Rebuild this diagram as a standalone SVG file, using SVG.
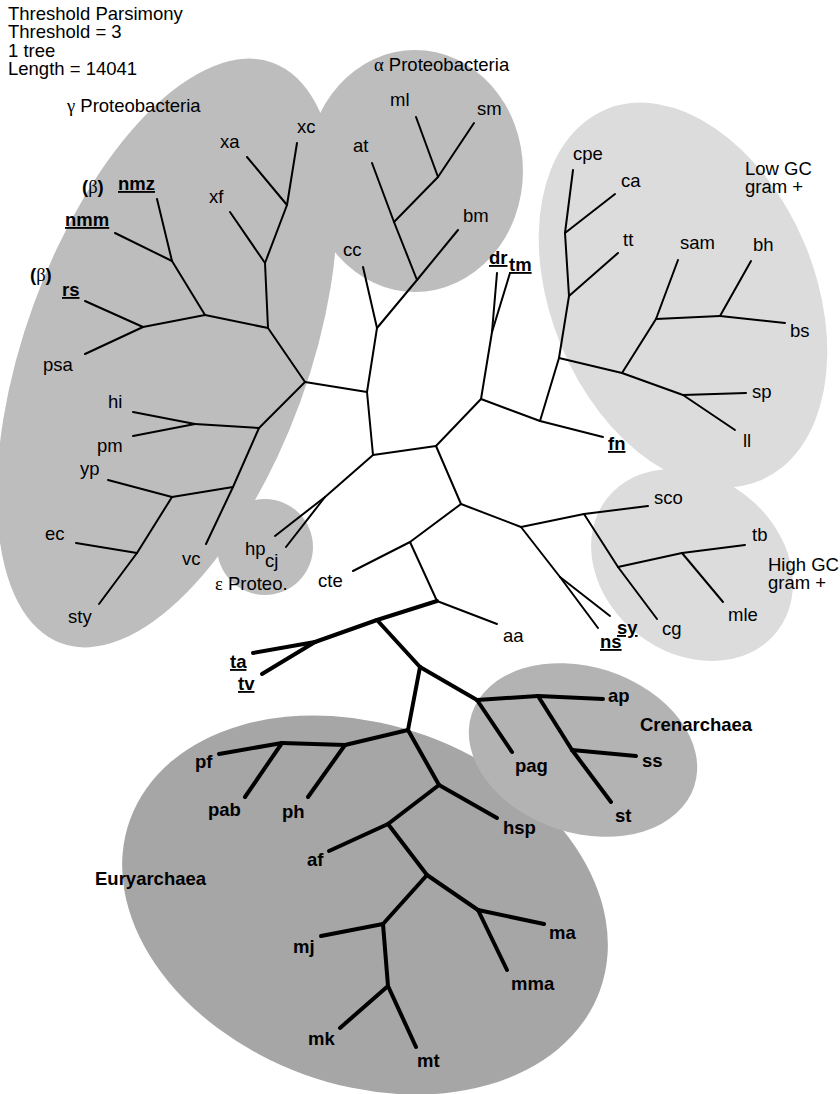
<svg xmlns="http://www.w3.org/2000/svg" width="840" height="1094" viewBox="0 0 840 1094">
<style>
text{font-family:"Liberation Sans",Arial,Helvetica,sans-serif;font-size:18.5px;fill:#000}
.b{font-weight:bold}
.u{text-decoration:underline}
.gr{font-family:"Liberation Serif","Times New Roman",serif;font-weight:normal}
.g1{fill:#bdbdbd}
.g2{fill:#dcdcdc}
.eu{fill:#a6a6a6}
.cr{fill:#b3b3b3}
.thin line{stroke:#000;stroke-width:2;stroke-linecap:round}
.thick line{stroke:#000;stroke-width:4;stroke-linecap:round}
</style>
<rect width="840" height="1094" fill="#fff"/>
<g id="clusters">
<g id="gamma-proteobacteria"><ellipse class="g1" cx="167" cy="353" rx="142" ry="309" transform="rotate(20 167 353)"/></g>
<g id="alpha-proteobacteria"><ellipse class="g1" cx="415" cy="171" rx="108" ry="121"/></g>
<g id="epsilon-proteobacteria"><circle class="g1" cx="265" cy="547" r="48"/></g>
<g id="low-gc"><ellipse class="g2" cx="683" cy="295" rx="132" ry="201" transform="rotate(-22.6 683 295)"/></g>
<g id="high-gc"><ellipse class="g2" cx="692" cy="565" rx="108" ry="88" transform="rotate(38 692 565)"/></g>
<g id="euryarchaea"><ellipse class="eu" cx="365" cy="905" rx="250" ry="180" transform="rotate(20 365 905)"/></g>
<g id="crenarchaea"><ellipse class="cr" cx="583" cy="750" rx="117" ry="83" transform="rotate(18 583 750)"/></g>
</g>
<g id="connectors">
<g class="thin">
<line x1="297" y1="143" x2="287" y2="205"/>
<line x1="247" y1="157" x2="287" y2="205"/>
<line x1="287" y1="205" x2="265" y2="263"/>
<line x1="230" y1="212" x2="265" y2="263"/>
<line x1="265" y1="263" x2="268" y2="328"/>
<line x1="268" y1="328" x2="205" y2="315"/>
<line x1="205" y1="315" x2="172" y2="261"/>
<line x1="157" y1="199" x2="172" y2="261"/>
<line x1="115" y1="233" x2="172" y2="261"/>
<line x1="205" y1="315" x2="143" y2="327"/>
<line x1="85" y1="301" x2="143" y2="327"/>
<line x1="85" y1="354" x2="143" y2="327"/>
<line x1="268" y1="328" x2="305" y2="382"/>
<line x1="305" y1="382" x2="259" y2="428"/>
<line x1="133" y1="412" x2="195" y2="424"/>
<line x1="133" y1="436" x2="195" y2="424"/>
<line x1="195" y1="424" x2="259" y2="428"/>
<line x1="259" y1="428" x2="233" y2="487"/>
<line x1="233" y1="487" x2="206" y2="544"/>
<line x1="233" y1="487" x2="172" y2="497"/>
<line x1="108" y1="480" x2="172" y2="497"/>
<line x1="172" y1="497" x2="137" y2="553"/>
<line x1="76" y1="543" x2="137" y2="553"/>
<line x1="137" y1="553" x2="99" y2="604"/>
<line x1="305" y1="382" x2="367" y2="392"/>
<line x1="367" y1="392" x2="377" y2="328"/>
<line x1="377" y1="328" x2="363" y2="267"/>
<line x1="377" y1="328" x2="417" y2="280"/>
<line x1="417" y1="280" x2="458" y2="230"/>
<line x1="417" y1="280" x2="394" y2="222"/>
<line x1="394" y1="222" x2="372" y2="163"/>
<line x1="394" y1="222" x2="438" y2="177"/>
<line x1="438" y1="177" x2="416" y2="117"/>
<line x1="438" y1="177" x2="474" y2="123"/>
<line x1="367" y1="392" x2="373" y2="455"/>
<line x1="373" y1="455" x2="325" y2="497"/>
<line x1="325" y1="497" x2="275" y2="536"/>
<line x1="325" y1="497" x2="286" y2="547"/>
<line x1="373" y1="455" x2="436" y2="446"/>
<line x1="436" y1="446" x2="481" y2="399"/>
<line x1="481" y1="399" x2="492" y2="332"/>
<line x1="492" y1="332" x2="497" y2="273"/>
<line x1="492" y1="332" x2="510" y2="273"/>
<line x1="481" y1="399" x2="540" y2="421"/>
<line x1="540" y1="421" x2="603" y2="437"/>
<line x1="540" y1="421" x2="559" y2="358"/>
<line x1="559" y1="358" x2="569" y2="296"/>
<line x1="569" y1="296" x2="618" y2="253"/>
<line x1="569" y1="296" x2="565" y2="233"/>
<line x1="565" y1="233" x2="615" y2="194"/>
<line x1="565" y1="233" x2="573" y2="170"/>
<line x1="559" y1="358" x2="622" y2="373"/>
<line x1="622" y1="373" x2="656" y2="319"/>
<line x1="656" y1="319" x2="678" y2="260"/>
<line x1="656" y1="319" x2="720" y2="316"/>
<line x1="720" y1="316" x2="751" y2="261"/>
<line x1="720" y1="316" x2="785" y2="323"/>
<line x1="622" y1="373" x2="683" y2="395"/>
<line x1="683" y1="395" x2="746" y2="393"/>
<line x1="683" y1="395" x2="735" y2="430"/>
<line x1="436" y1="446" x2="461" y2="504"/>
<line x1="461" y1="504" x2="521" y2="527"/>
<line x1="521" y1="527" x2="560" y2="577"/>
<line x1="560" y1="577" x2="598" y2="628"/>
<line x1="560" y1="577" x2="610" y2="616"/>
<line x1="521" y1="527" x2="584" y2="514"/>
<line x1="584" y1="514" x2="648" y2="506"/>
<line x1="584" y1="514" x2="618" y2="567"/>
<line x1="618" y1="567" x2="657" y2="619"/>
<line x1="618" y1="567" x2="682" y2="553"/>
<line x1="682" y1="553" x2="745" y2="545"/>
<line x1="682" y1="553" x2="723" y2="602"/>
<line x1="461" y1="504" x2="410" y2="542"/>
<line x1="410" y1="542" x2="353" y2="571"/>
<line x1="410" y1="542" x2="437" y2="601"/>
<line x1="437" y1="601" x2="497" y2="624"/>
</g>
<g class="thick">
<line x1="437" y1="601" x2="377" y2="620"/>
<line x1="377" y1="620" x2="315" y2="642"/>
<line x1="315" y1="642" x2="253" y2="653"/>
<line x1="315" y1="642" x2="262" y2="674"/>
<line x1="377" y1="620" x2="420" y2="667"/>
<line x1="420" y1="667" x2="477" y2="700"/>
<line x1="477" y1="700" x2="512" y2="752"/>
<line x1="477" y1="700" x2="538" y2="696"/>
<line x1="538" y1="696" x2="603" y2="699"/>
<line x1="538" y1="696" x2="572" y2="750"/>
<line x1="572" y1="750" x2="636" y2="756"/>
<line x1="572" y1="750" x2="611" y2="802"/>
<line x1="420" y1="667" x2="408" y2="730"/>
<line x1="408" y1="730" x2="345" y2="745"/>
<line x1="345" y1="745" x2="308" y2="797"/>
<line x1="345" y1="745" x2="282" y2="743"/>
<line x1="282" y1="743" x2="219" y2="754"/>
<line x1="282" y1="743" x2="245" y2="797"/>
<line x1="408" y1="730" x2="439" y2="785"/>
<line x1="439" y1="785" x2="497" y2="818"/>
<line x1="439" y1="785" x2="388" y2="824"/>
<line x1="388" y1="824" x2="329" y2="851"/>
<line x1="388" y1="824" x2="427" y2="875"/>
<line x1="427" y1="875" x2="478" y2="910"/>
<line x1="478" y1="910" x2="544" y2="924"/>
<line x1="478" y1="910" x2="507" y2="970"/>
<line x1="427" y1="875" x2="383" y2="924"/>
<line x1="383" y1="924" x2="321" y2="936"/>
<line x1="383" y1="924" x2="388" y2="986"/>
<line x1="388" y1="986" x2="340" y2="1028"/>
<line x1="388" y1="986" x2="416" y2="1047"/>
</g>
</g>
<g id="header">
<text x="8" y="20">Threshold Parsimony</text>
<text x="8" y="38">Threshold = 3</text>
<text x="8" y="56.5">1 tree</text>
<text x="8" y="75">Length = 14041</text>
</g>
<g id="group-labels">
<text x="67" y="112"><tspan class="gr">γ</tspan> Proteobacteria</text>
<text x="374" y="71"><tspan class="gr">α</tspan> Proteobacteria</text>
<text x="215" y="590"><tspan class="gr">ε</tspan> Proteo.</text>
<text x="745" y="175">Low GC</text>
<text x="745" y="193">gram +</text>
<text x="768" y="571">High GC</text>
<text x="768" y="589">gram +</text>
<text class="b" x="640" y="731">Crenarchaea</text>
<text class="b" x="95" y="885">Euryarchaea</text>
<text class="b" x="82" y="193">(<tspan class="gr">β</tspan>)</text>
<text class="b" x="30" y="281">(<tspan class="gr">β</tspan>)</text>
</g>
<g id="leaves">
<g id="n-xc"><text x="297" y="133">xc</text></g>
<g id="n-xa"><text x="220" y="148">xa</text></g>
<g id="n-xf"><text x="209" y="203">xf</text></g>
<g id="n-nmz"><text class="b u" x="118" y="190">nmz</text></g>
<g id="n-nmm"><text class="b u" x="65" y="226">nmm</text></g>
<g id="n-rs"><text class="b u" x="62" y="296">rs</text></g>
<g id="n-psa"><text x="43" y="371">psa</text></g>
<g id="n-hi"><text x="108" y="408">hi</text></g>
<g id="n-pm"><text x="97" y="452">pm</text></g>
<g id="n-yp"><text x="80" y="475">yp</text></g>
<g id="n-ec"><text x="45" y="540">ec</text></g>
<g id="n-sty"><text x="68" y="623">sty</text></g>
<g id="n-vc"><text x="182" y="565">vc</text></g>
<g id="n-hp"><text x="245" y="555">hp</text></g>
<g id="n-cj"><text x="265" y="567">cj</text></g>
<g id="n-cte"><text x="318" y="587">cte</text></g>
<g id="n-ml"><text x="390" y="106">ml</text></g>
<g id="n-sm"><text x="477" y="115">sm</text></g>
<g id="n-at"><text x="353" y="152">at</text></g>
<g id="n-bm"><text x="463" y="222">bm</text></g>
<g id="n-cc"><text x="343" y="256">cc</text></g>
<g id="n-dr"><text class="b u" x="489" y="264">dr</text></g>
<g id="n-tm"><text class="b u" x="509" y="271">tm</text></g>
<g id="n-cpe"><text x="573" y="160">cpe</text></g>
<g id="n-ca"><text x="621" y="187">ca</text></g>
<g id="n-tt"><text x="623" y="246">tt</text></g>
<g id="n-sam"><text x="680" y="249">sam</text></g>
<g id="n-bh"><text x="753" y="251">bh</text></g>
<g id="n-bs"><text x="790" y="337">bs</text></g>
<g id="n-sp"><text x="752" y="398">sp</text></g>
<g id="n-ll"><text x="743" y="447">ll</text></g>
<g id="n-fn"><text class="b u" x="608" y="450">fn</text></g>
<g id="n-aa"><text x="503" y="642">aa</text></g>
<g id="n-sy"><text class="b u" x="617" y="634">sy</text></g>
<g id="n-ns"><text class="b u" x="600" y="648">ns</text></g>
<g id="n-sco"><text x="654" y="504">sco</text></g>
<g id="n-tb"><text x="752" y="541">tb</text></g>
<g id="n-mle"><text x="728" y="621">mle</text></g>
<g id="n-cg"><text x="662" y="635">cg</text></g>
<g id="n-ta"><text class="b u" x="230" y="668">ta</text></g>
<g id="n-tv"><text class="b u" x="238" y="690">tv</text></g>
<g id="n-ap"><text class="b" x="608" y="702">ap</text></g>
<g id="n-ss"><text class="b" x="642" y="767">ss</text></g>
<g id="n-pag"><text class="b" x="515" y="772">pag</text></g>
<g id="n-st"><text class="b" x="615" y="822">st</text></g>
<g id="n-hsp"><text class="b" x="503" y="834">hsp</text></g>
<g id="n-pf"><text class="b" x="195" y="768">pf</text></g>
<g id="n-pab"><text class="b" x="208" y="816">pab</text></g>
<g id="n-ph"><text class="b" x="282" y="818">ph</text></g>
<g id="n-af"><text class="b" x="307" y="866">af</text></g>
<g id="n-mj"><text class="b" x="293" y="953">mj</text></g>
<g id="n-ma"><text class="b" x="549" y="939">ma</text></g>
<g id="n-mma"><text class="b" x="511" y="990">mma</text></g>
<g id="n-mk"><text class="b" x="308" y="1045">mk</text></g>
<g id="n-mt"><text class="b" x="417" y="1067">mt</text></g>
</g>
</svg>
